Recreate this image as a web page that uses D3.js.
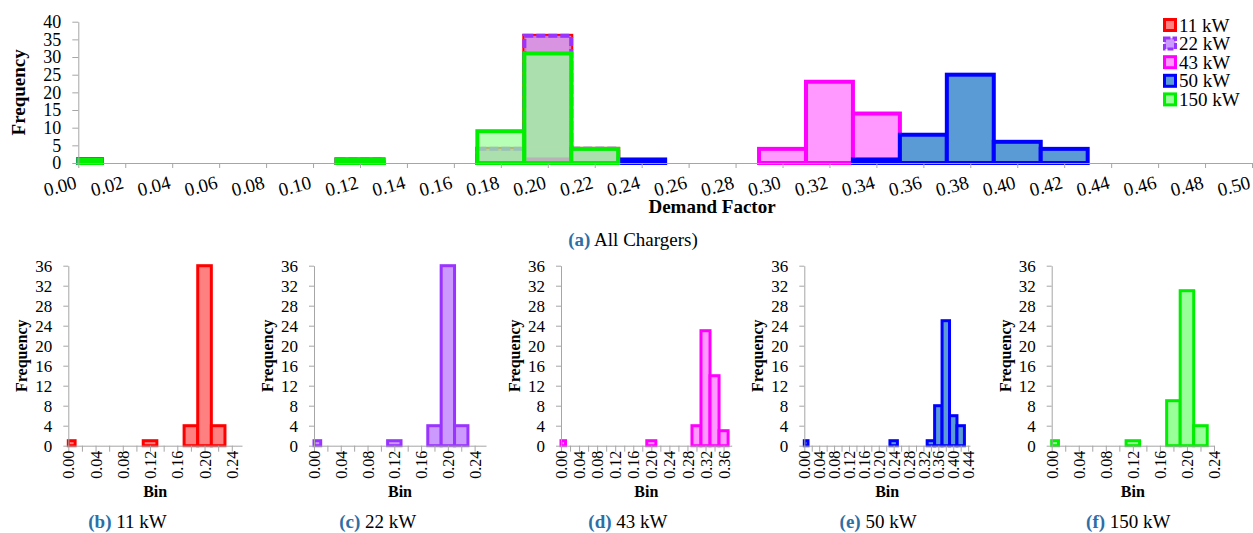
<!DOCTYPE html>
<html>
<head>
<meta charset="utf-8">
<script src="https://cdn.jsdelivr.net/npm/d3@7"></script>
<style>
  body { margin: 0; background: #fff; }
  svg text { font-family: "Liberation Serif", "Times New Roman", serif; }
</style>
</head>
<body>
<svg id="chart" width="1253" height="533"></svg>
<script>
// data: bin centre (demand factor) -> frequency
const seriesNames = ["11 kW", "22 kW", "43 kW", "50 kW", "150 kW"];
const bins11 = [0.00, 0.12, 0.18, 0.20, 0.22];
const freq11 = [1, 1, 4, 36, 4];
const bins22 = [0.00, 0.12, 0.18, 0.20, 0.22];
const freq22 = [1, 1, 4, 36, 4];
const bins43 = [0.00, 0.20, 0.30, 0.32, 0.34, 0.36];
const freq43 = [1, 1, 4, 23, 14, 3];
const bins50 = [0.00, 0.24, 0.34, 0.36, 0.38, 0.40, 0.42];
const freq50 = [1, 1, 1, 8, 25, 6, 4];
const bins150 = [0.00, 0.12, 0.18, 0.20, 0.22];
const freq150 = [1, 1, 9, 31, 4];

const yTicksTop = [0, 5, 10, 15, 20, 25, 30, 35, 40];
const yTicksSmall = [0, 4, 8, 12, 16, 20, 24, 28, 32, 36];
const panelLetters = ["(b)", "(c)", "(d)", "(e)", "(f)"];

// styles
const strokes = ["#ff0000", "#9933ff", "#ff00ff", "#0000ff", "#00ee00"];
const fills = ["#ff8080", "#cc99ff", "#ff99ff", "#5b9bd5", "#99ff99"];
const topFillOpacity = [1, 0.76, 1, 1, 0.7];
const topDash = [null, "9,3", null, null, null];
const axisGrey = "#a6a6a6";
const captionBlue = "#2e6ea6";
const serif = '"Liberation Serif", "Times New Roman", serif';

const series = [
  bins11.map((b, i) => ({ bin: b, freq: freq11[i] })),
  bins22.map((b, i) => ({ bin: b, freq: freq22[i] })),
  bins43.map((b, i) => ({ bin: b, freq: freq43[i] })),
  bins50.map((b, i) => ({ bin: b, freq: freq50[i] })),
  bins150.map((b, i) => ({ bin: b, freq: freq150[i] }))
];

const binHalf = 0.01;
const svg = d3.select("#chart");

function tickRange(max) {
  const n = Math.floor(max / 0.02 + 1e-6);
  return d3.range(n + 1).map(i => +(i * 0.02).toFixed(2));
}

function styleAxis(g, size) {
  g.attr("color", axisGrey)
    .attr("font-family", serif)
    .attr("font-size", size);
  g.selectAll("text").attr("fill", "#000");
}

function drawBars(g, data, x, y, k, sw, opacity, dash) {
  g.append("g")
    .selectAll("rect")
    .data(data)
    .join("rect")
      .attr("x", d => x(Math.max(0, d.bin - binHalf)))
      .attr("width", d => x(d.bin + binHalf) - x(Math.max(0, d.bin - binHalf)))
      .attr("y", d => y(d.freq))
      .attr("height", d => y(0) - y(d.freq))
      .attr("fill", fills[k])
      .attr("fill-opacity", opacity)
      .attr("stroke", strokes[k])
      .attr("stroke-width", sw)
      .attr("stroke-dasharray", dash);
}

// ---------- (a) all chargers ----------
const topX = d3.scaleLinear().domain([0, 0.5]).range([78.3, 1252]);
const topY = d3.scaleLinear().domain([0, 40]).range([163, 21.7]);

const mainG = svg.append("g");

series.forEach((data, k) => drawBars(mainG, data, topX, topY, k, 4, topFillOpacity[k], topDash[k]));

mainG.append("g")
  .attr("transform", `translate(0,${topY(0)})`)
  .call(d3.axisBottom(topX).tickValues(tickRange(0.5)).tickSize(5).tickSizeOuter(0)
    .tickFormat(d3.format(".2f")))
  .call(g => styleAxis(g, 19))
  .call(g => g.selectAll(".tick text")
    .attr("x", 0).attr("y", 0).attr("dy", null)
    .attr("text-anchor", "end")
    .attr("transform", "translate(-1,25) rotate(-15)"));

mainG.append("g")
  .attr("transform", `translate(${topX(0)},0)`)
  .call(d3.axisLeft(topY).tickValues(yTicksTop).tickSize(6).tickPadding(11).tickSizeOuter(0))
  .call(g => styleAxis(g, 18));

mainG.append("text")
  .attr("transform", `translate(25,${(topY(0) + topY(40)) / 2}) rotate(-90)`)
  .attr("text-anchor", "middle")
  .attr("font-size", 19).attr("font-weight", "bold")
  .text("Frequency");

mainG.append("text")
  .attr("x", 712).attr("y", 213)
  .attr("text-anchor", "middle")
  .attr("font-size", 19).attr("font-weight", "bold")
  .text("Demand Factor");

const capA = mainG.append("text")
  .attr("x", 633).attr("y", 246)
  .attr("text-anchor", "middle")
  .attr("font-size", 19);
capA.append("tspan").attr("font-weight", "bold").attr("fill", captionBlue).text("(a)");
capA.append("tspan").text(" All Chargers)");

// legend
const legend = mainG.append("g").attr("transform", "translate(1163,25)");
const row = legend.selectAll("g")
  .data(seriesNames)
  .join("g")
    .attr("transform", (d, i) => `translate(0,${i * 18.6})`);
row.append("rect")
  .attr("x", 1.5).attr("y", -5.5)
  .attr("width", 11).attr("height", 11)
  .attr("fill", (d, i) => fills[i])
  .attr("stroke", (d, i) => strokes[i])
  .attr("stroke-width", 3)
  .attr("stroke-dasharray", (d, i) => topDash[i] ? "6,2" : null);
row.append("text")
  .attr("x", 16).attr("y", 6.5)
  .attr("font-size", 19)
  .text(d => d);

// ---------- (b)-(f) per charger ----------
const panelX0 = [68.3, 314, 561, 804.3, 1051.7];
const panelX1 = [242, 486, 731.7, 970, 1214];
const panelMax = [0.255, 0.257, 0.378, 0.445, 0.24];
const smallY = d3.scaleLinear().domain([0, 36]).range([445.7, 265.7]);

series.forEach((data, k) => {
  const x = d3.scaleLinear().domain([0, panelMax[k]]).range([panelX0[k], panelX1[k]]);
  const g = svg.append("g");

  drawBars(g, data, x, smallY, k, 3, 1, null);

  const ticks = tickRange(panelMax[k]);
  g.append("g")
    .attr("transform", `translate(0,${smallY(0)})`)
    .call(d3.axisBottom(x).tickValues(ticks).tickSize(6).tickSizeOuter(0)
      .tickFormat((d, i) => i % 2 === 0 ? d3.format(".2f")(d) : ""))
    .call(a => styleAxis(a, 16))
    .call(a => a.selectAll(".tick text")
      .attr("x", 0).attr("y", 0).attr("dy", "0.35em")
      .attr("text-anchor", "end")
      .attr("transform", "translate(0,5) rotate(-90)"));

  g.append("g")
    .attr("transform", `translate(${panelX0[k]},0)`)
    .call(d3.axisLeft(smallY).tickValues(yTicksSmall).tickSize(5).tickPadding(11).tickSizeOuter(0))
    .call(a => styleAxis(a, 17));

  g.append("text")
    .attr("transform", `translate(${panelX0[k] - 41},${(smallY(0) + smallY(36)) / 2}) rotate(-90)`)
    .attr("text-anchor", "middle")
    .attr("font-size", 16).attr("font-weight", "bold")
    .text("Frequency");

  g.append("text")
    .attr("x", (panelX0[k] + panelX1[k]) / 2).attr("y", 497)
    .attr("text-anchor", "middle")
    .attr("font-size", 16).attr("font-weight", "bold")
    .text("Bin");

  const cap = g.append("text")
    .attr("x", 127.5 + 250.2 * k).attr("y", 528)
    .attr("text-anchor", "middle")
    .attr("font-size", 19);
  cap.append("tspan").attr("font-weight", "bold").attr("fill", captionBlue).text(panelLetters[k]);
  cap.append("tspan").text(" " + seriesNames[k]);
});
</script>
</body>
</html>
